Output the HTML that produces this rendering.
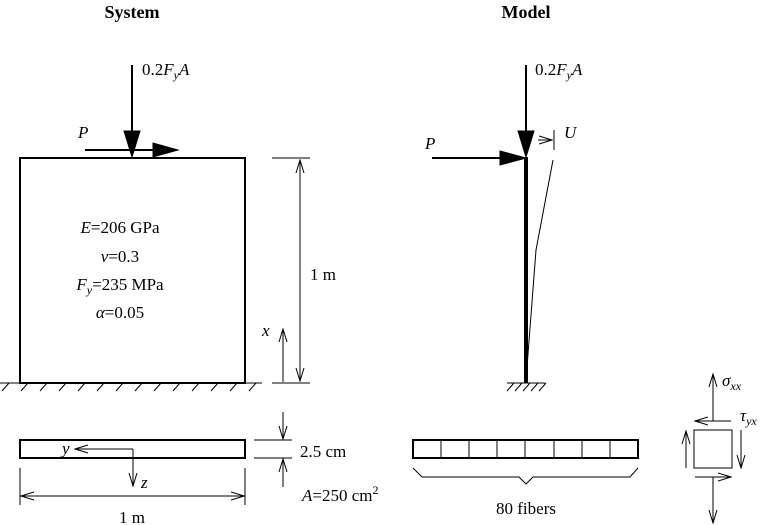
<!DOCTYPE html>
<html><head><meta charset="utf-8"><style>
html,body{margin:0;padding:0;background:#fff;}
svg{display:block;}
text{font-family:"Liberation Serif",serif;font-size:17px;fill:#000;stroke:none;}
.i{font-style:italic;}
</style></head><body>
<svg width="769" height="525" viewBox="0 0 769 525" xmlns="http://www.w3.org/2000/svg">
<defs>
<marker id="o" markerWidth="14" markerHeight="10" refX="13" refY="5" orient="auto" markerUnits="userSpaceOnUse">
<path d="M0,1 L13,5 L0,9" fill="none" stroke="#000" stroke-width="1"/></marker>
</defs>
<text x="132" y="18" text-anchor="middle" font-weight="bold" style="font-size:18px">System</text>
<text x="526" y="18" text-anchor="middle" font-weight="bold" style="font-size:18px">Model</text>
<g stroke="#000" fill="none">

<!-- system loads -->
<line x1="132" y1="65" x2="132" y2="132" stroke-width="2"/>
<polygon points="124,131 140,131 132,157" fill="#000"/>
<text x="142" y="75">0.2<tspan class="i">F</tspan><tspan class="i" dy="4" style="font-size:12px">y</tspan><tspan class="i" dy="-4">A</tspan></text>
<text x="78" y="138" class="i">P</text>
<line x1="85" y1="150" x2="155" y2="150" stroke-width="2"/>
<polygon points="153,143 153,157 178,150" fill="#000"/>

<rect x="20" y="158" width="225" height="225" stroke-width="2"/>
<g text-anchor="middle">
<text x="120" y="233"><tspan class="i">E</tspan>=206 GPa</text>
<text x="120" y="262"><tspan class="i">ν</tspan>=0.3</text>
<text x="120" y="290"><tspan class="i">F</tspan><tspan class="i" dy="4" style="font-size:12px">y</tspan><tspan dy="-4">=235 MPa</tspan></text>
<text x="120" y="318"><tspan class="i">α</tspan>=0.05</text>
</g>
<line x1="0" y1="383" x2="262" y2="383" stroke-width="1"/>
<path d="M2,391 L9,383 M21,391 L28,383 M40,391 L47,383 M59,391 L66,383 M78,391 L85,383 M97,391 L104,383 M116,391 L123,383 M135,391 L142,383 M154,391 L161,383 M173,391 L180,383 M192,391 L199,383 M211,391 L218,383 M230,391 L237,383 M249,391 L256,383" stroke-width="1"/>

<!-- dims -->
<line x1="272" y1="158" x2="310" y2="158"/>
<line x1="272" y1="383" x2="310" y2="383"/>
<line x1="300" y1="270" x2="300" y2="160" marker-end="url(#o)"/>
<line x1="300" y1="270" x2="300" y2="381" marker-end="url(#o)"/>
<text x="310" y="280">1 m</text>
<line x1="283" y1="382" x2="283" y2="329" marker-end="url(#o)"/>
<text x="262" y="336" class="i">x</text>

<!-- section -->
<rect x="20" y="440" width="225" height="18" stroke-width="2"/>
<line x1="133" y1="449" x2="75" y2="449" marker-end="url(#o)"/>
<line x1="133" y1="449" x2="133" y2="486" marker-end="url(#o)"/>
<text x="62" y="454" class="i">y</text>
<text x="141" y="488" class="i">z</text>
<line x1="20" y1="468" x2="20" y2="505"/>
<line x1="245" y1="468" x2="245" y2="505"/>
<line x1="132" y1="496" x2="21" y2="496" marker-end="url(#o)"/>
<line x1="132" y1="496" x2="244" y2="496" marker-end="url(#o)"/>
<text x="132" y="523" text-anchor="middle">1 m</text>
<line x1="254" y1="440" x2="292" y2="440"/>
<line x1="254" y1="458" x2="292" y2="458"/>
<line x1="283" y1="412" x2="283" y2="439" marker-end="url(#o)"/>
<line x1="283" y1="487" x2="283" y2="459" marker-end="url(#o)"/>
<text x="300" y="457">2.5 cm</text>
<text x="302" y="501"><tspan class="i">A</tspan>=250 cm<tspan dy="-7" style="font-size:12px">2</tspan></text>

<!-- model -->
<line x1="526" y1="65" x2="526" y2="132" stroke-width="2"/>
<polygon points="518,131 534,131 526,157" fill="#000"/>
<text x="535" y="75">0.2<tspan class="i">F</tspan><tspan class="i" dy="4" style="font-size:12px">y</tspan><tspan class="i" dy="-4">A</tspan></text>
<text x="425" y="149" class="i">P</text>
<line x1="432" y1="158" x2="502" y2="158" stroke-width="2"/>
<polygon points="500,151 500,165 526,158" fill="#000"/>
<line x1="526" y1="157" x2="526" y2="383" stroke-width="4"/>
<line x1="538" y1="140" x2="552" y2="140" marker-end="url(#o)"/>
<line x1="554" y1="130" x2="554" y2="150"/>
<text x="564" y="138" class="i">U</text>
<polyline points="553,160 536,250 526,380"/>
<line x1="507" y1="383" x2="545" y2="383"/>
<path d="M507,391 L514,383 M515,391 L522,383 M523,391 L530,383 M531,391 L538,383 M539,391 L546,383"/>

<rect x="413" y="440" width="225" height="18" stroke-width="2"/>
<path d="M441,440 V458 M469,440 V458 M497,440 V458 M525,440 V458 M554,440 V458 M582,440 V458 M610,440 V458"/>
<polyline points="413,468 422,477 519,477 526,484 533,477 630,477 638,468"/>
<text x="526" y="514" text-anchor="middle">80 fibers</text>

<!-- stress element -->
<rect x="694" y="430" width="38" height="38"/>
<line x1="713" y1="421" x2="713" y2="374" marker-end="url(#o)"/>
<text x="722" y="386" class="i">σ<tspan dy="4" style="font-size:12px">xx</tspan></text>
<line x1="731" y1="421" x2="695" y2="421" marker-end="url(#o)"/>
<text x="740" y="421" class="i">τ<tspan dy="4" style="font-size:12px">yx</tspan></text>
<line x1="686" y1="468" x2="686" y2="431" marker-end="url(#o)"/>
<line x1="741" y1="430" x2="741" y2="468" marker-end="url(#o)"/>
<line x1="695" y1="477" x2="731" y2="477" marker-end="url(#o)"/>
<line x1="713" y1="477" x2="713" y2="523" marker-end="url(#o)"/>
</g>
</svg>
</body></html>
